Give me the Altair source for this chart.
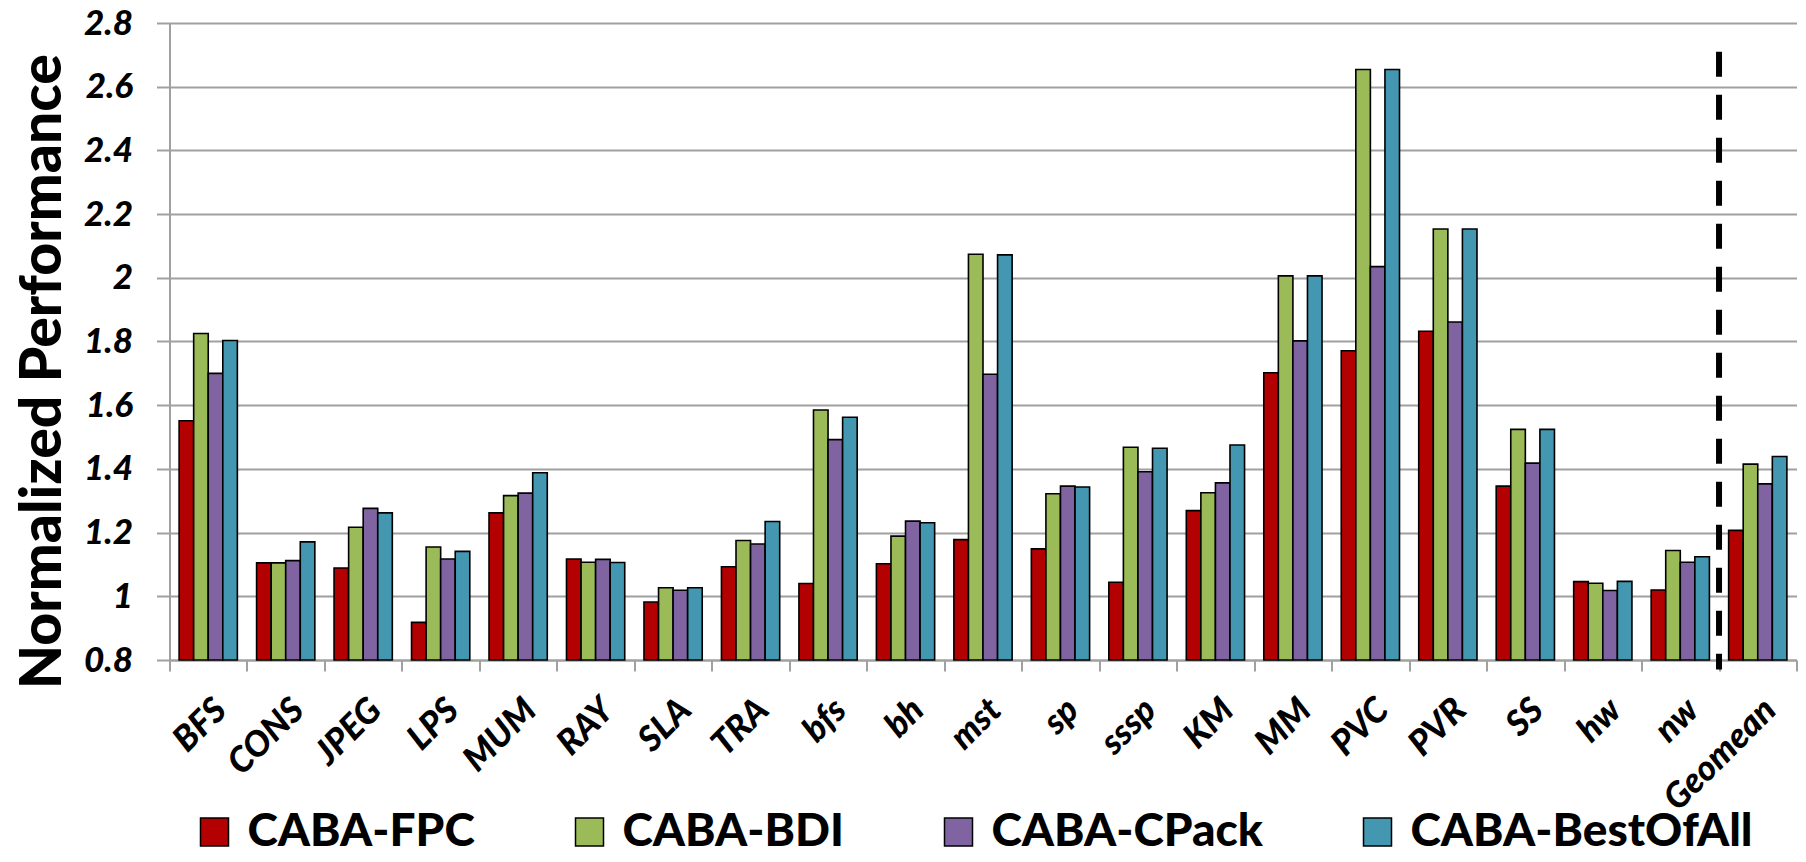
import altair as alt
import pandas as pd

# Benchmarks on the x axis, in plotting order
benchmarks = ["BFS", "CONS", "JPEG", "LPS", "MUM", "RAY", "SLA", "TRA", "bfs", "bh",
              "mst", "sp", "sssp", "KM", "MM", "PVC", "PVR", "SS", "hw", "nw", "Geomean"]

# Compression configurations (legend order)
configs = ["CABA-FPC", "CABA-BDI", "CABA-CPack", "CABA-BestOfAll"]
colors = ["#B30000", "#9BBB59", "#8064A2", "#4397B0"]

# Normalized performance per benchmark
caba_fpc = [1.551, 1.105, 1.089, 0.918, 1.262, 1.117, 0.982, 1.093, 1.040, 1.102, 1.178,
            1.149, 1.044, 1.269, 1.702, 1.771, 1.832, 1.346, 1.046, 1.020, 1.207]
caba_bdi = [1.825, 1.105, 1.217, 1.155, 1.316, 1.107, 1.027, 1.175, 1.585, 1.189, 2.074,
            1.322, 1.468, 1.325, 2.006, 2.654, 2.153, 1.524, 1.041, 1.144, 1.415]
caba_cpack = [1.700, 1.112, 1.276, 1.117, 1.324, 1.116, 1.019, 1.164, 1.492, 1.236, 1.697,
              1.346, 1.391, 1.356, 1.802, 2.035, 1.861, 1.418, 1.018, 1.107, 1.353]
caba_best = [1.803, 1.171, 1.262, 1.141, 1.388, 1.106, 1.027, 1.235, 1.562, 1.231, 2.072,
             1.343, 1.465, 1.475, 2.006, 2.654, 2.153, 1.524, 1.047, 1.124, 1.439]

y_ticks = [0.8, 1.0, 1.2, 1.4, 1.6, 1.8, 2.0, 2.2, 2.4, 2.6, 2.8]
y_min, y_max = 0.8, 2.8

# Separator between individual benchmarks and the geometric mean
separator = pd.DataFrame({"benchmark": ["Geomean"], "top": [2.71], "bottom": [0.77]})

rows = []
for series_name, values in zip(configs, [caba_fpc, caba_bdi, caba_cpack, caba_best]):
    for bench, val in zip(benchmarks, values):
        rows.append({"benchmark": bench, "config": series_name, "perf": val})
df = pd.DataFrame(rows)

FONT = "Lato"
GRID = "#A0A0A0"

x_axis = alt.Axis(
    title=None, labelAngle=-45, labelFont=FONT, labelFontSize=35, labelFontWeight=900,
    labelFontStyle="italic", labelColor="black", labelPadding=21,
    tickBand="extent", tickSize=11, tickWidth=2, tickColor=GRID,
    domainColor=GRID, domainWidth=2, grid=False,
)

y_axis = alt.Axis(
    values=y_ticks, format="~g", title="Normalized Performance",
    titleFont=FONT, titleFontSize=57, titleFontWeight=900, titleColor="black",
    titleX=-97, titleY=348,
    labelFont=FONT, labelFontSize=35, labelFontWeight=900, labelFontStyle="italic",
    labelColor="black", labelPadding=24,
    tickSize=13, tickWidth=2, tickColor=GRID, domainColor=GRID, domainWidth=2,
    grid=True, gridColor=GRID, gridWidth=2,
)

bars = alt.Chart(df).mark_bar(stroke="black", strokeWidth=1.6).encode(
    x=alt.X("benchmark:N", sort=benchmarks, axis=x_axis,
            scale=alt.Scale(paddingInner=0, paddingOuter=0)),
    xOffset=alt.XOffset("config:N", sort=configs,
                        scale=alt.Scale(paddingInner=0, paddingOuter=0.66)),
    y=alt.Y("perf:Q", axis=y_axis,
            scale=alt.Scale(domain=[y_min, y_max], zero=False, nice=False)),
    y2=alt.Y2(datum=y_min),
    color=alt.Color(
        "config:N", sort=configs,
        scale=alt.Scale(domain=configs, range=colors),
        legend=alt.Legend(
            title=None, orient="none", legendX=22, legendY=786, direction="horizontal",
            columns=4, symbolType="square", symbolSize=784, symbolStrokeColor="black",
            symbolStrokeWidth=1.5, labelFont=FONT, labelFontSize=46, labelFontWeight=900,
            labelColor="black", labelOffset=10, columnPadding=91, labelLimit=0,
        ),
    ),
)

rule = alt.Chart(separator).mark_rule(
    color="black", strokeWidth=6, strokeDash=[25, 18]
).encode(
    x=alt.X("benchmark:N", sort=benchmarks, bandPosition=0),
    y=alt.Y("top:Q"),
    y2=alt.Y2("bottom:Q"),
)

chart = alt.layer(bars, rule).properties(
    width=1627, height=637,
    autosize=alt.AutoSizeParams(type="none"),
    padding={"left": 169.5, "top": 23, "right": 9.5, "bottom": 202},
    background="white",
).configure_view(stroke=None)

chart.save("out.html", embed_options={"renderer": "svg", "actions": False})
